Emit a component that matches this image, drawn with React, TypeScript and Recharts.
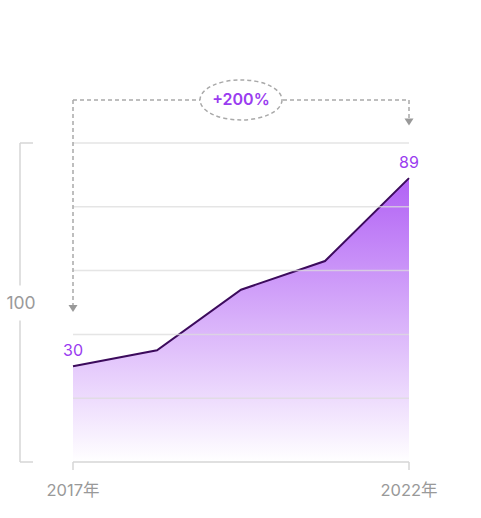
import React from 'react';
import {
  AreaChart, Area, XAxis, YAxis, ReferenceLine, ReferenceDot, LabelList,
} from 'recharts';

const years = ['2017年', '2018年', '2019年', '2020年', '2022年'];
const values = [30, 35, 54, 63, 89];
const yTicks = [0, 20, 40, 60, 80, 100];
const rangeLabel = '100';
const growthLabel = '+200%';

// annotation levels, in data units
const bracketLevel = 113.5;
const leftArrowTip = 47;
const rightArrowTip = 105.5;

const data = years.map((year, i) => ({ year, value: values[i] }));

const FONT = 'Inter, "Noto Sans CJK SC", "Noto Sans", sans-serif';
const PURPLE = '#9a3cf0';
const DASH = '#a9a9a9';

const first = years[0];
const last = years[years.length - 1];
const middle = years[Math.floor(years.length / 2)];

const YearTick = (props: any) => {
  const { x, y, index } = props;
  if (index !== 0 && index !== years.length - 1) return null;
  return (
    <g>
      <line x1={x} y1={y} x2={x} y2={y + 8} stroke="#d6d6d6" strokeWidth={1.5} />
      <text x={x} y={y + 34} textAnchor="middle" fill="#999" fontSize={16.5} fontFamily={FONT}>
        {props.payload.value}
      </text>
    </g>
  );
};

const Bracket = (props: any) => {
  const { x, y, height } = props.viewBox;
  const bx = x + 15;
  const mid = y + height / 2;
  return (
    <g>
      <line x1={bx} y1={y} x2={bx} y2={mid - 17} stroke="#d6d6d6" strokeWidth={1.5} />
      <line x1={bx} y1={mid + 18} x2={bx} y2={y + height} stroke="#d6d6d6" strokeWidth={1.5} />
      <line x1={bx} y1={y} x2={bx + 13} y2={y} stroke="#d6d6d6" strokeWidth={1.5} />
      <line x1={bx} y1={y + height} x2={bx + 13} y2={y + height} stroke="#d6d6d6" strokeWidth={1.5} />
      <text x={bx + 1} y={mid + 6} textAnchor="middle" fill="#999" fontSize={17.5} fontFamily={FONT}>
        {rangeLabel}
      </text>
    </g>
  );
};

const Arrow = (props: any) => {
  const { cx, cy } = props;
  return <path d={`M${cx - 4.5},${cy - 7} L${cx + 4.5},${cy - 7} L${cx},${cy} Z`} fill="#999" />;
};

const Badge = (props: any) => {
  const { cx, cy } = props;
  return (
    <g>
      <ellipse cx={cx} cy={cy} rx={41} ry={20} fill="#fff" stroke={DASH} strokeWidth={1.5} strokeDasharray="4 3" />
      <text x={cx} y={cy + 5.5} textAnchor="middle" fill={PURPLE} fontSize={16} fontWeight={600} fontFamily={FONT}>
        {growthLabel}
      </text>
    </g>
  );
};

const EndLabel = (props: any) => {
  const { x, y, index, value } = props;
  if (index !== 0 && index !== values.length - 1) return null;
  return (
    <text x={x} y={y - 10} textAnchor="middle" fill={PURPLE} fontSize={16} fontFamily={FONT}>
      {value}
    </text>
  );
};

export default function App() {
  return (
    <div style={{ position: 'absolute', left: 0, top: 0, background: '#fff' }}>
      <AreaChart width={481} height={518} data={data} margin={{ top: 143, right: 72, bottom: 0, left: 5 }}>
        <defs>
          <linearGradient id="fillPurple" x1="0" y1="0" x2="0" y2="1">
            <stop offset="0%" stopColor="#b161f5" />
            <stop offset="100%" stopColor="#ffffff" />
          </linearGradient>
        </defs>
        <YAxis
          domain={[0, 100]}
          ticks={yTicks}
          width={68}
          tick={false}
          axisLine={false}
          tickLine={false}
          label={<Bracket />}
        />
        <XAxis
          dataKey="year"
          height={56}
          axisLine={{ stroke: '#d6d6d6', strokeWidth: 1.5 }}
          tickLine={false}
          tickSize={0}
          tickMargin={0}
          interval={0}
          tick={<YearTick />}
        />
        <Area
          type="linear"
          dataKey="value"
          stroke="#3c0b5c"
          strokeWidth={2}
          fill="url(#fillPurple)"
          fillOpacity={1}
          isAnimationActive={false}
        >
          <LabelList dataKey="value" content={<EndLabel />} />
        </Area>
        {yTicks.filter((t) => t > 0).map((t) => (
          <ReferenceLine key={t} y={t} stroke="#dcdcdc" strokeOpacity={0.75} strokeWidth={1.5} />
        ))}
        <ReferenceLine
          segment={[{ x: first, y: bracketLevel }, { x: first, y: leftArrowTip + 1 }]}
          stroke={DASH} strokeWidth={1.5} strokeDasharray="4 3" ifOverflow="visible"
        />
        <ReferenceLine
          segment={[{ x: first, y: bracketLevel }, { x: last, y: bracketLevel }]}
          stroke={DASH} strokeWidth={1.5} strokeDasharray="4 3" ifOverflow="visible"
        />
        <ReferenceLine
          segment={[{ x: last, y: bracketLevel }, { x: last, y: rightArrowTip + 1 }]}
          stroke={DASH} strokeWidth={1.5} strokeDasharray="4 3" ifOverflow="visible"
        />
        <ReferenceDot x={first} y={leftArrowTip} ifOverflow="visible" shape={<Arrow />} />
        <ReferenceDot x={last} y={rightArrowTip} ifOverflow="visible" shape={<Arrow />} />
        <ReferenceDot x={middle} y={bracketLevel} ifOverflow="visible" shape={<Badge />} />
      </AreaChart>
    </div>
  );
}
